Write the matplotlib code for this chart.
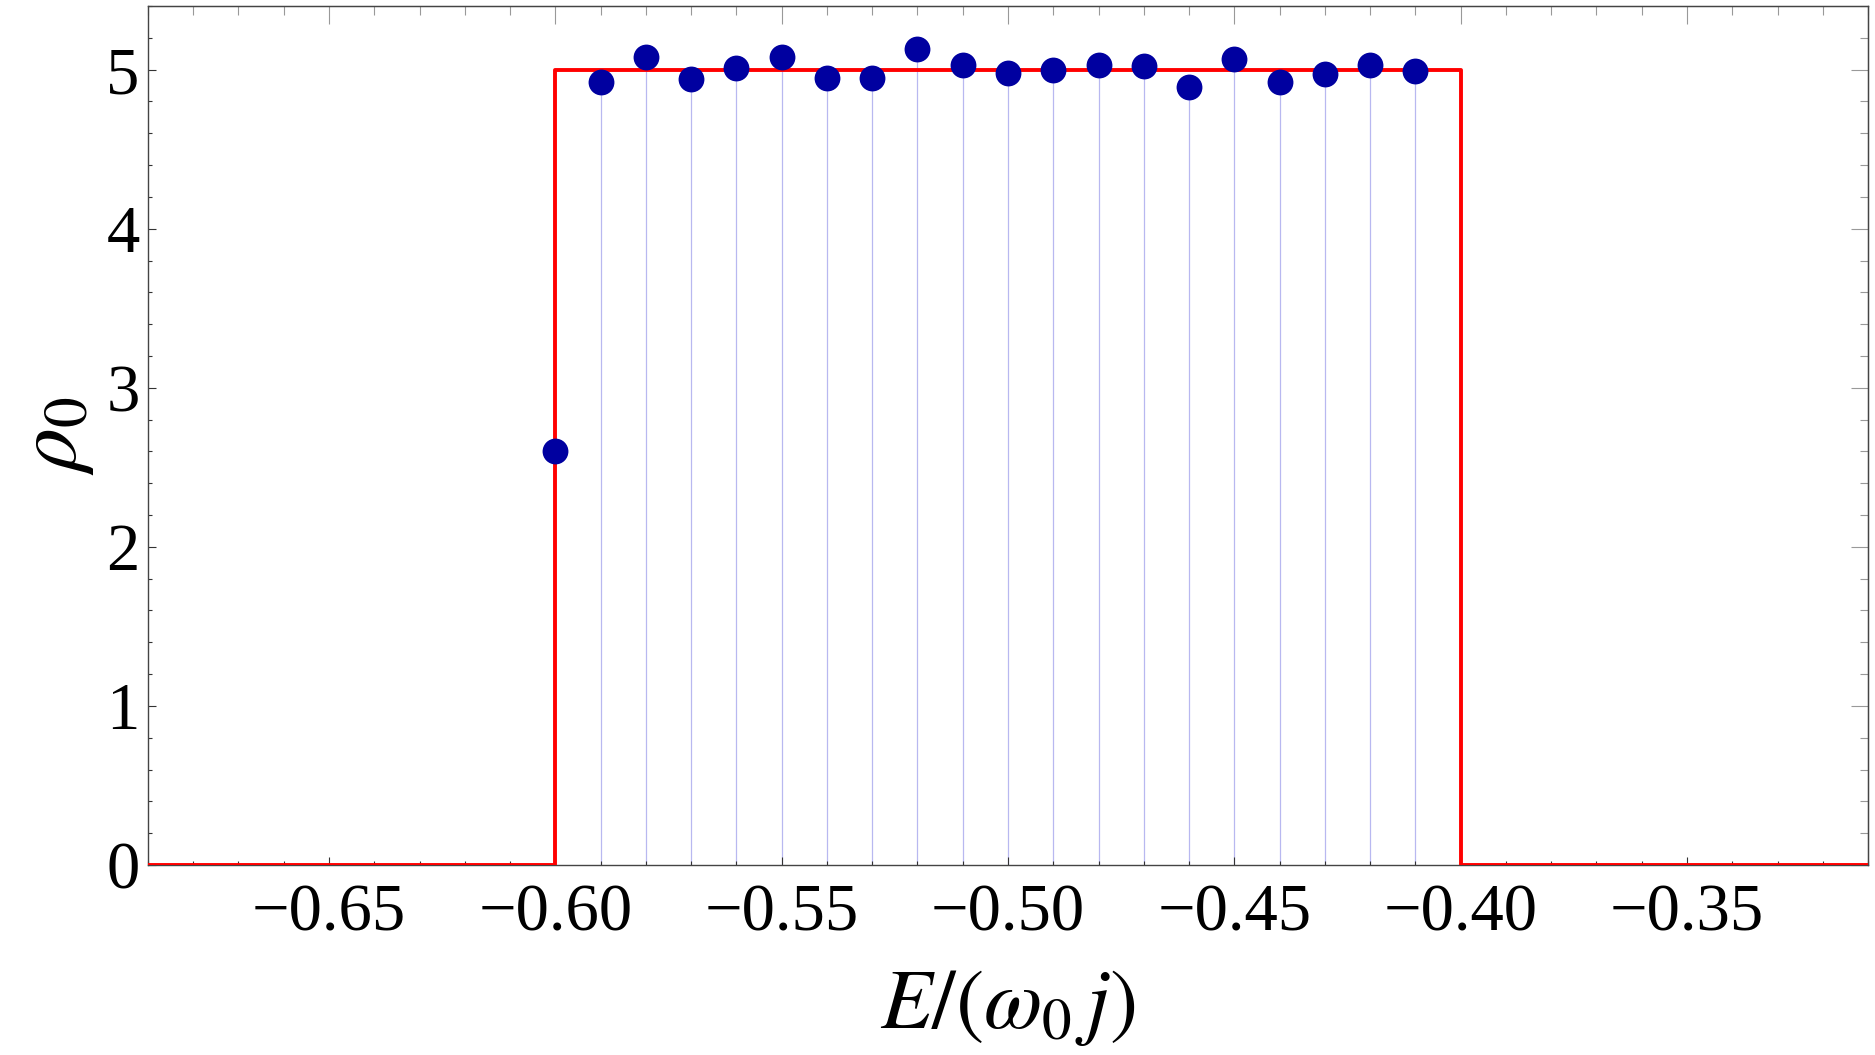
import numpy as np
import matplotlib
matplotlib.use("Agg")
import matplotlib.pyplot as plt
from matplotlib.ticker import FixedLocator, MultipleLocator, NullFormatter

plt.rcParams['font.family'] = ['Liberation Serif', 'DejaVu Serif']
plt.rcParams['mathtext.fontset'] = 'stix'

# puntos numericos
energia = [-0.60, -0.59, -0.58, -0.57, -0.56, -0.55, -0.54, -0.53, -0.52, -0.51,
           -0.50, -0.49, -0.48, -0.47, -0.46, -0.45, -0.44, -0.43, -0.42, -0.41]
rho = [2.60, 4.92, 5.08, 4.94, 5.01, 5.08, 4.95, 4.95, 5.13, 5.03,
       4.98, 5.00, 5.03, 5.02, 4.89, 5.07, 4.92, 4.97, 5.03, 4.99]

# densidad teorica (funcion escalon)
escalon_x = [-0.69, -0.60, -0.40, -0.31]
escalon_y = [0.0, 5.0, 0.0, 0.0]

# ejes
x_ticks = [-0.65, -0.60, -0.55, -0.50, -0.45, -0.40, -0.35]
x_labels = ['\u22120.65', '\u22120.60', '\u22120.55', '\u22120.50',
            '\u22120.45', '\u22120.40', '\u22120.35']
y_ticks = [0, 1, 2, 3, 4, 5]
y_labels = ['0', '1', '2', '3', '4', '5']

fig = plt.figure(figsize=(18.75, 10.55), dpi=100)
ax = fig.add_axes([0.0789, 0.1801, 0.9174, 0.8142])

ax.vlines(energia, 0, rho, color='#b8b8f0', lw=0.9, zorder=1)
ax.step(escalon_x, escalon_y, where='post', color='#ff0000', lw=2.8, zorder=3)
ax.plot(energia, rho, 'o', color='#0000a0', markersize=18.6, markeredgewidth=0, zorder=4)

ax.set_xlim(-0.69, -0.31)
ax.set_ylim(0, 5.4)

ax.xaxis.set_major_locator(FixedLocator(x_ticks))
ax.set_xticklabels(x_labels)
ax.xaxis.set_minor_locator(MultipleLocator(0.01))
ax.yaxis.set_major_locator(FixedLocator(y_ticks))
ax.set_yticklabels(y_labels)
ax.yaxis.set_minor_locator(MultipleLocator(0.2))

ax.tick_params(which='both', direction='in', colors='#333333', labelcolor='black', width=0.8)
ax.tick_params(which='major', length=5.5)
ax.tick_params(which='minor', length=2.8)
ax.tick_params(axis='x', which='major', labelsize=48, pad=13)
ax.tick_params(axis='y', which='major', labelsize=48, pad=6)

for lado in ['left', 'bottom', 'top', 'right']:
    ax.spines[lado].set_color('#444444')
    ax.spines[lado].set_linewidth(1.0)

# ticks de arriba y derecha (mas largos y grises)
arriba = ax.secondary_xaxis('top')
arriba.xaxis.set_major_locator(FixedLocator(x_ticks))
arriba.xaxis.set_minor_locator(MultipleLocator(0.01))
arriba.xaxis.set_major_formatter(NullFormatter())
arriba.tick_params(which='both', direction='in', colors='#999999', width=0.8)
arriba.tick_params(which='major', length=13)
arriba.tick_params(which='minor', length=6.5)
arriba.spines['top'].set_color('#555555')

derecha = ax.secondary_yaxis('right')
derecha.yaxis.set_major_locator(FixedLocator(y_ticks))
derecha.yaxis.set_minor_locator(MultipleLocator(0.2))
derecha.yaxis.set_major_formatter(NullFormatter())
derecha.tick_params(which='both', direction='in', colors='#999999', width=0.8)
derecha.tick_params(which='major', length=12)
derecha.tick_params(which='minor', length=6)
derecha.spines['right'].set_color('#333333')

ax.set_xlabel(r'$E/(\omega_{\mathit{0}}\,j)$', fontsize=61)
ax.xaxis.set_label_coords(0.5, -0.120)
ax.set_ylabel(r'$\rho_{\mathit{0}}$', fontsize=63)
ax.yaxis.set_label_coords(-0.030, 0.5)

fig.savefig('out.png', dpi=100)
